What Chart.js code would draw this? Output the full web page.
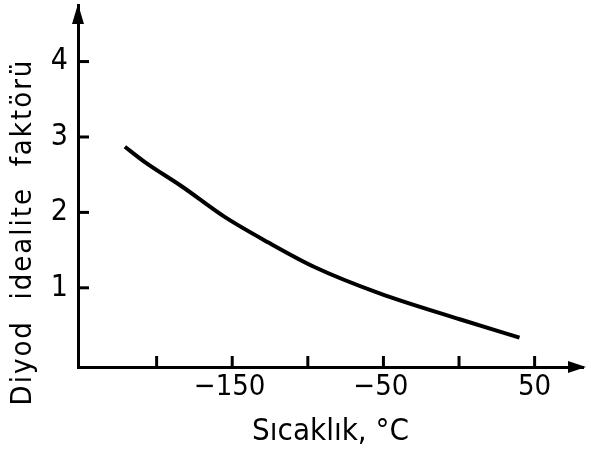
<!DOCTYPE html>
<html>
<head>
<meta charset="utf-8">
<script src="https://cdn.jsdelivr.net/npm/chart.js@4/dist/chart.umd.min.js"></script>
<style>
 html, body { margin: 0; padding: 0; background: #fff; }
 #wrap { width: 591px; height: 455px; }
</style>
</head>
<body>
<div id="wrap"><canvas id="myChart"></canvas></div>
<script>
// temperature (°C) vs diode ideality factor
let temps = [-221, -208, -183, -155, -126, -96, -53, 1, 40];
let factors = [2.87, 2.67, 2.34, 1.94, 1.60, 1.28, 0.93, 0.58, 0.34];
let xTicks = [-200, -150, -100, -50, 0, 50];
let xLabeled = [-150, -50, 50];
let yTicks = [1, 2, 3, 4];

let fontFam = '"DejaVu Sans Condensed", "Liberation Sans Narrow", "DejaVu Sans", sans-serif';

// tick marks point into the plot, axes end in arrow heads
const axisDecor = {
 id: 'axisDecor',
 afterDraw(chart) {
  const ctx = chart.ctx;
  const xs = chart.scales.x;
  const ys = chart.scales.y;
  const area = chart.chartArea;
  ctx.save();
  ctx.strokeStyle = '#000';
  ctx.fillStyle = '#000';
  ctx.lineWidth = 3;
  xTicks.forEach(function(v) {
   let px = xs.getPixelForValue(v);
   ctx.beginPath();
   ctx.moveTo(px, area.bottom);
   ctx.lineTo(px, area.bottom - 11);
   ctx.stroke();
  });
  yTicks.forEach(function(v) {
   let py = ys.getPixelForValue(v);
   ctx.beginPath();
   ctx.moveTo(area.left, py);
   ctx.lineTo(area.left + 11, py);
   ctx.stroke();
  });
  // arrow up
  ctx.beginPath();
  ctx.moveTo(area.left, area.top - 1);
  ctx.lineTo(area.left - 6, area.top + 19);
  ctx.lineTo(area.left + 6, area.top + 19);
  ctx.closePath();
  ctx.fill();
  // arrow right
  ctx.beginPath();
  ctx.moveTo(area.right + 3, area.bottom);
  ctx.lineTo(area.right - 15, area.bottom - 6);
  ctx.lineTo(area.right - 15, area.bottom + 6);
  ctx.closePath();
  ctx.fill();
  // y axis title
  ctx.translate(23, 232);
  ctx.rotate(-Math.PI / 2);
  ctx.font = '29px ' + fontFam;
  ctx.letterSpacing = '2px';
  ctx.textAlign = 'center';
  ctx.textBaseline = 'middle';
  ctx.fillText('Diyod  idealite  faktörü', 0, 0);
  ctx.restore();
 }
};

window.addEventListener('load', function() {
 var ctx = document.getElementById('myChart').getContext('2d');
 new Chart(ctx, {
  type: 'line',
  data: {
   datasets: [{
    data: temps.map(function(t, i) { return {x: t, y: factors[i]}; }),
    borderColor: '#000',
    borderWidth: 4,
    pointRadius: 0,
    cubicInterpolationMode: 'monotone',
    fill: false
   }]
  },
  options: {
   responsive: true,
   maintainAspectRatio: false,
   animation: false,
   layout: { padding: { top: 5, right: 8, left: 0, bottom: 0 } },
   plugins: { legend: { display: false }, tooltip: { enabled: false } },
   scales: {
    x: {
     type: 'linear',
     min: -252,
     max: 82,
     afterBuildTicks: function(scale) {
      scale.ticks = xTicks.map(function(v) { return {value: v}; });
     },
     afterFit: function(scale) {
      scale.height = 88;
      scale.paddingLeft = 0;
      scale.paddingRight = 0;
     },
     grid: { display: false, drawTicks: false },
     border: { color: '#000', width: 3 },
     ticks: {
      color: '#000',
      padding: 3,
      maxRotation: 0,
      autoSkip: false,
      font: { family: fontFam, size: 29 },
      callback: function(v) {
       if (xLabeled.indexOf(v) < 0) return '';
       return v < 0 ? '−' + Math.abs(v) + '\u2009' : String(v);
      }
     },
     title: {
      display: true,
      text: 'Sıcaklık, °C',
      color: '#000',
      font: { family: fontFam, size: 31 },
      padding: { top: 6, bottom: 4 }
     }
    },
    y: {
     min: -0.05,
     max: 4.75,
     afterBuildTicks: function(scale) {
      scale.ticks = yTicks.map(function(v) { return {value: v}; });
     },
     afterFit: function(scale) {
      scale.width = 78;
      scale.paddingTop = 0;
      scale.paddingBottom = 0;
     },
     grid: { display: false, drawTicks: false },
     border: { color: '#000', width: 3 },
     ticks: {
      color: '#000',
      padding: 10,
      font: { family: fontFam, size: 30 }
     }
    }
   }
  },
  plugins: [axisDecor]
 });
});
</script>
</body>
</html>
